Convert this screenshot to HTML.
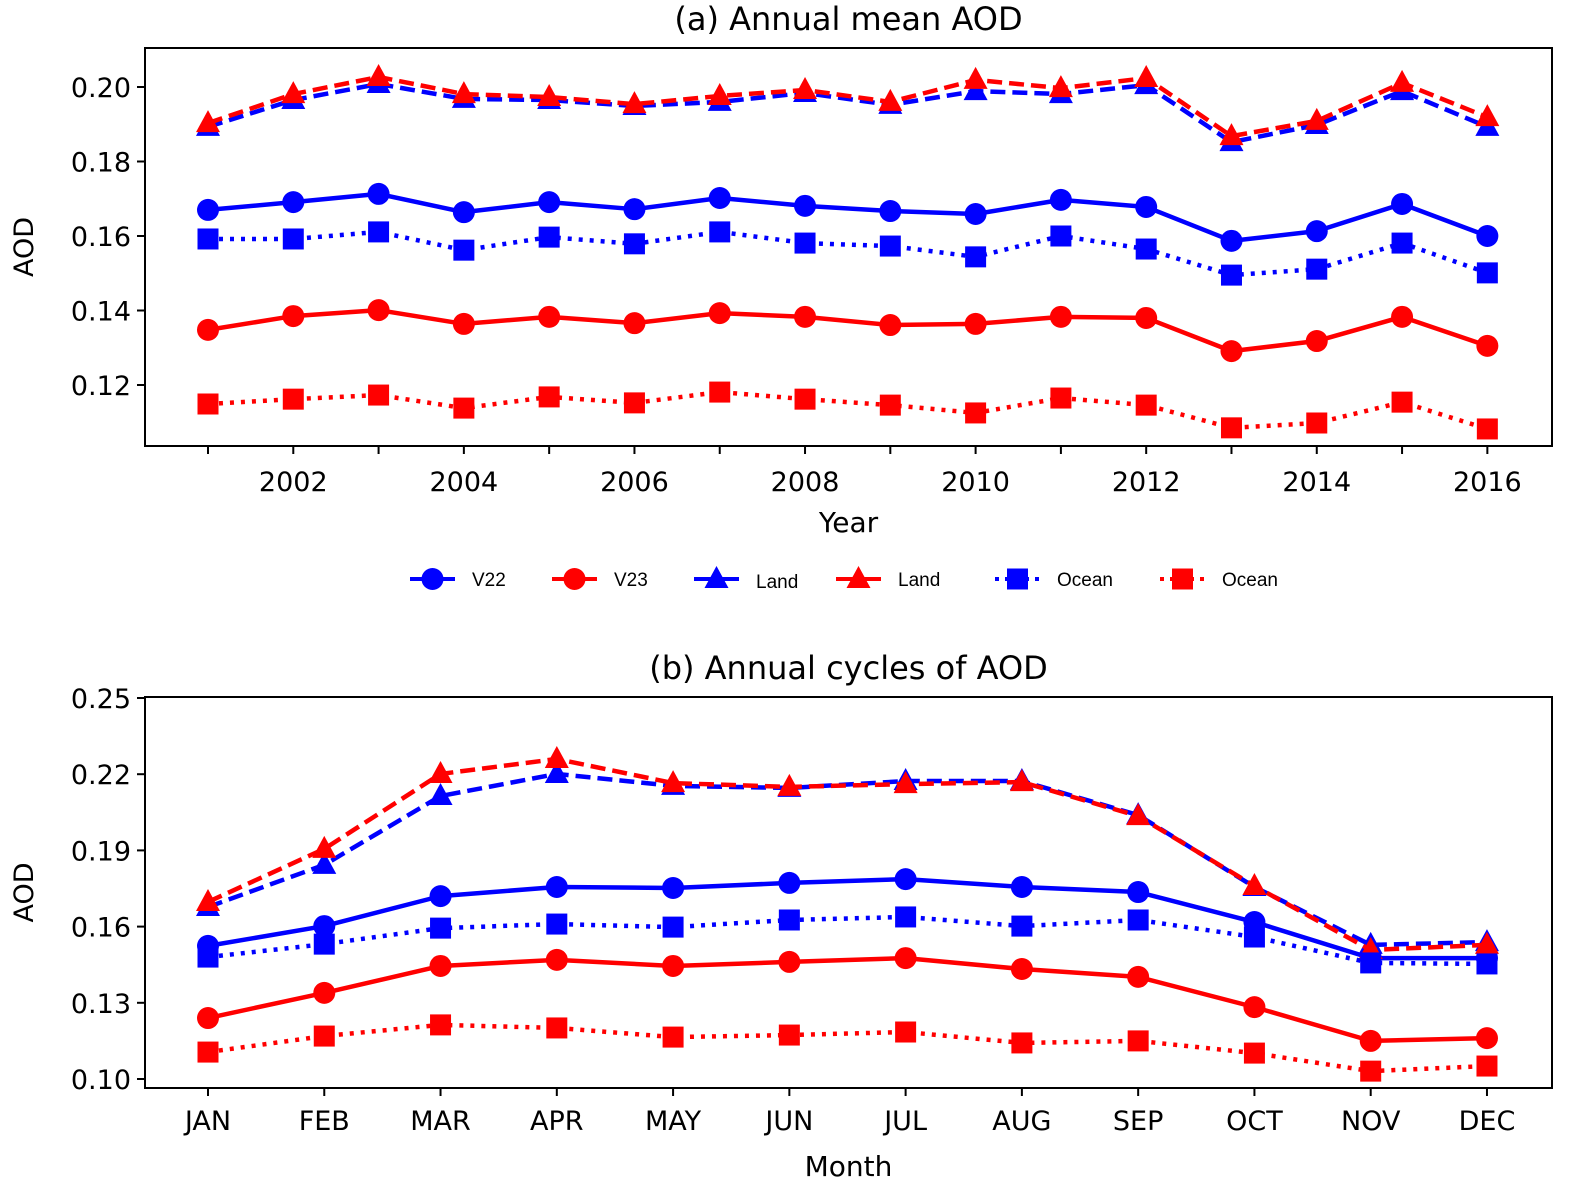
<!DOCTYPE html>
<html><head><meta charset="utf-8"><style>
body{margin:0;background:#fff;}
svg text{font-family:"DejaVu Sans","Liberation Sans",sans-serif;fill:#000;}
svg text.leg{font-family:"Liberation Sans","DejaVu Sans",sans-serif;}
</style></head><body>
<svg id="c" width="1576" height="1198" xmlns="http://www.w3.org/2000/svg"></svg>
<script>
const years=[2001,2002,2003,2004,2005,2006,2007,2008,2009,2010,2011,2012,2013,2014,2015,2016];
const yearTicks=[2002,2004,2006,2008,2010,2012,2014,2016];
const aTicks=[0.12,0.14,0.16,0.18,0.20];
const aV22=[0.1670,0.1691,0.1713,0.1664,0.1691,0.1672,0.1702,0.1681,0.1667,0.1659,0.1697,0.1678,0.1587,0.1613,0.1686,0.1600];
const aV23=[0.1348,0.1385,0.1401,0.1364,0.1383,0.1366,0.1393,0.1383,0.1361,0.1364,0.1383,0.1380,0.1291,0.1318,0.1383,0.1305];
const aLandV22=[0.1893,0.1965,0.2008,0.1968,0.1965,0.1949,0.1960,0.1984,0.1952,0.1989,0.1981,0.2005,0.1852,0.1898,0.1989,0.1893];
const aLandV23=[0.1903,0.1981,0.2027,0.1981,0.1973,0.1954,0.1976,0.1992,0.1960,0.2019,0.1997,0.2024,0.1868,0.1909,0.2011,0.1919];
const aOceanV22=[0.1592,0.1592,0.1611,0.1562,0.1597,0.1579,0.1611,0.1581,0.1573,0.1544,0.1600,0.1565,0.1495,0.1511,0.1581,0.1501];
const aOceanV23=[0.1149,0.1162,0.1173,0.1138,0.1168,0.1152,0.1181,0.1162,0.1146,0.1125,0.1165,0.1146,0.1085,0.1098,0.1154,0.1082];
const months=["JAN","FEB","MAR","APR","MAY","JUN","JUL","AUG","SEP","OCT","NOV","DEC"];
const bTicks=[0.10,0.13,0.16,0.19,0.22,0.25];
const bV22=[0.1524,0.1602,0.1720,0.1756,0.1752,0.1772,0.1787,0.1756,0.1736,0.1618,0.1476,0.1476];
const bV23=[0.1240,0.1339,0.1445,0.1469,0.1445,0.1461,0.1476,0.1433,0.1402,0.1283,0.1150,0.1161];
const bLandV22=[0.1677,0.1843,0.2114,0.2201,0.2154,0.2146,0.2173,0.2173,0.2039,0.1756,0.1528,0.1539];
const bLandV23=[0.1697,0.1906,0.2201,0.2260,0.2165,0.2150,0.2161,0.2169,0.2035,0.1760,0.1508,0.1528];
const bOceanV22=[0.1480,0.1531,0.1594,0.1610,0.1598,0.1626,0.1638,0.1602,0.1626,0.1559,0.1457,0.1453];
const bOceanV23=[0.1106,0.1169,0.1213,0.1201,0.1165,0.1173,0.1185,0.1142,0.1150,0.1102,0.1031,0.1051];

const NS="http://www.w3.org/2000/svg";
const svg=document.getElementById('c');
function mk(tag,attrs,parent){const e=document.createElementNS(NS,tag);for(const k in attrs)e.setAttribute(k,attrs[k]);(parent||svg).appendChild(e);return e;}
function txt(s,x,y,size,anchor,parent,extra){const t=mk('text',Object.assign({x:x,y:y,'font-size':size,'text-anchor':anchor||'middle'},extra||{}),parent);t.textContent=s;return t;}
function marker(type,x,y,color,g){
  if(type==='o')return mk('circle',{cx:x,cy:y,r:11,fill:color},g);
  if(type==='s')return mk('rect',{x:x-10.5,y:y-10.5,width:21,height:21,fill:color},g);
  return mk('polygon',{points:`${x},${y-13} ${x+12},${y+9} ${x-12},${y+9}`,fill:color},g);
}
const styles={solid:'',dash:'15,7',dot:'4,7'};
function series(name,xs,ys,sx,sy,color,dash,mtype){
  const g=mk('g',{});
  
  
  const pts=ys.map((v,i)=>sx(xs[i])+','+sy(v)).join(' ');
  const l=mk('polyline',{points:pts,fill:'none',stroke:color,'stroke-width':4.5,'stroke-dasharray':styles[dash],'stroke-linejoin':'round'},g);
  
  
  ys.forEach((v,i)=>{const m=marker(mtype,sx(xs[i]),sy(v),color,g);
    
    });
}
function axes(name,L,T,R,B,yticks,sy,fmt,title,ylabel,xlabel,xlabelY){
  const g=mk('g',{});
  
  
  const f=mk('rect',{x:L,y:T,width:R-L,height:B-T,fill:'none',stroke:'#000','stroke-width':2},g);
  
  
  yticks.forEach(v=>{const y=sy(v);mk('line',{x1:L-8,x2:L,y1:y,y2:y,stroke:'#000','stroke-width':2},g);
    const t=txt(fmt(v),L-14,y+10,27,'end',g);
    
    });
  const tt=txt(title,(L+R)/2,T-18,32,'middle',g);
  
  
  const yl=txt(ylabel,0,0,27,'middle',g,{transform:`translate(${L-112},${(T+B)/2}) rotate(-90)`});
  
  
  const xl=txt(xlabel,(L+R)/2,xlabelY,28,'middle',g);
  
  
  return g;
}
// panel a
const aL=145,aT=48,aR=1552,aB=446;
const sxA=y=>208+(y-2001)*85.29;
const syA=v=>87+(0.20-v)*3725;
const ga=axes('panel-a',aL,aT,aR,aB,aTicks,syA,v=>v.toFixed(2),'(a) Annual mean AOD','AOD','Year',532);
years.forEach(y=>mk('line',{x1:sxA(y),x2:sxA(y),y1:aB,y2:aB+8,stroke:'#000','stroke-width':2},ga));
yearTicks.forEach(y=>{const t=txt(String(y),sxA(y),491,27,'middle',ga);
  
  });
series('a-v22',years,aV22,sxA,syA,'#0000ff','solid','o');
series('a-v23',years,aV23,sxA,syA,'#ff0000','solid','o');
series('a-land-v22',years,aLandV22,sxA,syA,'#0000ff','dash','^');
series('a-land-v23',years,aLandV23,sxA,syA,'#ff0000','dash','^');
series('a-ocean-v22',years,aOceanV22,sxA,syA,'#0000ff','dot','s');
series('a-ocean-v23',years,aOceanV23,sxA,syA,'#ff0000','dot','s');
// panel b
const bL=145,bT=697,bR=1552,bB=1088;
const mi=months.map((m,i)=>i);
const sxB=i=>208+i*116.27;
const syB=v=>698+(0.25-v)*2540;
const gb=axes('panel-b',bL,bT,bR,bB,bTicks,syB,v=>v.toFixed(2),'(b) Annual cycles of AOD','AOD','Month',1176);
months.forEach((m,i)=>{mk('line',{x1:sxB(i),x2:sxB(i),y1:bB,y2:bB+8,stroke:'#000','stroke-width':2},gb);
  const t=txt(m,sxB(i),1130,27,'middle',gb);
  
  });
series('b-v22',mi,bV22,sxB,syB,'#0000ff','solid','o');
series('b-v23',mi,bV23,sxB,syB,'#ff0000','solid','o');
series('b-land-v22',mi,bLandV22,sxB,syB,'#0000ff','dash','^');
series('b-land-v23',mi,bLandV23,sxB,syB,'#ff0000','dash','^');
series('b-ocean-v22',mi,bOceanV22,sxB,syB,'#0000ff','dot','s');
series('b-ocean-v23',mi,bOceanV23,sxB,syB,'#ff0000','dot','s');
// legend
const legLabels=['V22','V23','Land','Land','Ocean','Ocean'];
const legColors=['#0000ff','#ff0000','#0000ff','#ff0000','#0000ff','#ff0000'];
const legMarks=['o','o','^','^','s','s'];
const legDash=['solid','solid','solid','solid','dot','dot'];
const legX=[410,552,694,836,995,1160];
const lg=mk('g',{});


legLabels.forEach((lab,i)=>{
  const e=mk('g',{},lg);
  
  
  const x=legX[i],y=579;
  mk('line',{x1:x,x2:x+45,y1:y,y2:y,stroke:legColors[i],'stroke-width':4,'stroke-dasharray':legDash[i]==='dot'?'4,6':''},e);
  marker(legMarks[i],x+22.5,y,legColors[i],e);
  const t=txt(lab,x+62,y+(i===2?9:7),19,'start',e);
  t.setAttribute('class','leg');
});
</script>
</body></html>
